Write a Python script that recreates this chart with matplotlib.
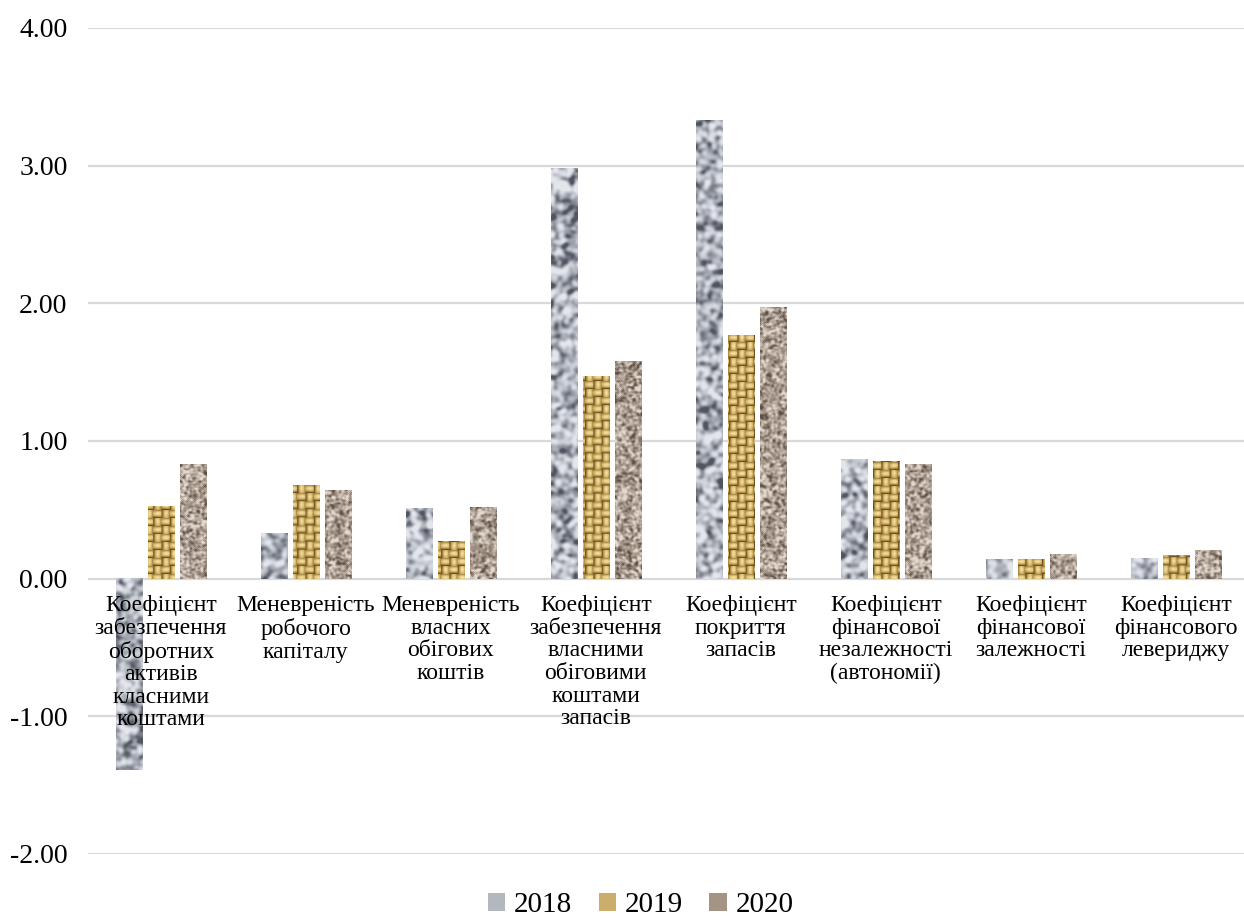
import numpy as np
import matplotlib
matplotlib.use('Agg')
import matplotlib.pyplot as plt
from matplotlib.patches import Patch

plt.rcParams['font.family'] = ['Liberation Serif', 'DejaVu Serif']

# === Data ===
categories = [
    'Коефіцієнт\nзабезпечення\nоборотних\nактивів\nкласними\nкоштами',
    'Меневреність\nробочого\nкапіталу',
    'Меневреність\nвласних\nобігових\nкоштів',
    'Коефіцієнт\nзабезпечення\nвласними\nобіговими\nкоштами\nзапасів',
    'Коефіцієнт\nпокриття\nзапасів',
    'Коефіцієнт\nфінансової\nнезалежності\n(автономії)',
    'Коефіцієнт\nфінансової\nзалежності',
    'Коефіцієнт\nфінансового\nлевериджу',
]
years = ['2018', '2019', '2020']
v2018 = [-1.39, 0.33, 0.515, 2.98, 3.33, 0.865, 0.14, 0.15]
v2019 = [0.53, 0.68, 0.275, 1.47, 1.77, 0.855, 0.145, 0.17]
v2020 = [0.835, 0.64, 0.52, 1.58, 1.97, 0.83, 0.175, 0.21]
yticks = [-2, -1, 0, 1, 2, 3, 4]

# === Texture helpers (style only) ===
H, W = 826, 1160
XMIN, XMAX, YMIN, YMAX = -0.5, 7.5, -2.0, 4.0


def hash_noise(h, w, seed):
    i, j = np.mgrid[0:h, 0:w].astype(float)
    v = np.sin(i * 12.9898 + j * 78.233 + seed * 3.17) * 43758.5453
    return v - np.floor(v)


def blur(a, r):
    out = a.copy()
    for _ in range(r):
        out = (out + np.roll(out, 1, 0) + np.roll(out, -1, 0)
               + np.roll(out, 1, 1) + np.roll(out, -1, 1)) / 5.0
    return out


def norm(a):
    return (a - a.min()) / (a.max() - a.min())


def colorize(t, stops):
    stops = np.array(stops, float) / 255.0
    xs = np.linspace(0, 1, len(stops))
    return np.stack([np.interp(t, xs, stops[:, k]) for k in range(3)], axis=-1)


# granite grey: soft blobs
g = norm(blur(hash_noise(H, W, 1), 10))
g = np.clip((g - 0.5) * 2.4 + 0.55, 0, 1)
tex_gray = colorize(g, [(80, 85, 95), (145, 150, 160), (195, 199, 207), (228, 230, 236)])

# burlap weave
i, j = np.mgrid[0:H, 0:W]
P = 8
cell = ((i // P) + (j // P)) % 2
hprof = np.sin(np.pi * (i % P) / P)
vprof = np.sin(np.pi * (j % P) / P)
weave = np.where(cell == 0, hprof * (0.7 + 0.3 * np.sin(np.pi * (j % P) / P)),
                 vprof * (0.7 + 0.3 * np.sin(np.pi * (i % P) / P)))
weave = 0.8 * weave + 0.2 * blur(hash_noise(H, W, 2), 2)
tex_burlap = colorize(norm(weave), [(90, 70, 30), (165, 130, 65), (212, 182, 108), (250, 232, 165)])

# brown granite: fine grain
b = norm(blur(hash_noise(H, W, 3), 2))
b = np.clip((b - 0.5) * 2.3 + 0.52, 0, 1)
tex_brown = colorize(b, [(95, 80, 70), (148, 133, 120), (185, 172, 160), (228, 218, 208)])

textures = [tex_gray, tex_burlap, tex_brown]
mean_colors = [(0.70, 0.72, 0.75), (0.80, 0.68, 0.42), (0.64, 0.58, 0.52)]

# === Plot ===
fig = plt.figure(figsize=(12.44, 9.23), dpi=100)
ax = fig.add_axes([0.071, 0.0748, 0.9325, 0.8949])

x = np.arange(len(categories))
width = 0.18
step = 0.222
series = [v2018, v2019, v2020]

for k, vals in enumerate(series):
    bars = ax.bar(x + (k - 1) * step, vals, width, color=mean_colors[k],
                  linewidth=0, zorder=1)
    tex = textures[k]
    for rect in bars:
        x0 = rect.get_x()
        x1 = x0 + rect.get_width()
        y0 = min(rect.get_y(), rect.get_y() + rect.get_height())
        y1 = max(rect.get_y(), rect.get_y() + rect.get_height())
        c0 = int((x0 - XMIN) / (XMAX - XMIN) * W)
        c1 = max(c0 + 1, int((x1 - XMIN) / (XMAX - XMIN) * W))
        r0 = int((y0 - YMIN) / (YMAX - YMIN) * H)
        r1 = max(r0 + 1, int((y1 - YMIN) / (YMAX - YMIN) * H))
        ax.imshow(tex[r0:r1, c0:c1], extent=(x0, x1, y0, y1), origin='lower',
                  aspect='auto', interpolation='bilinear', zorder=1.2)

ax.set_xlim(XMIN, XMAX)
ax.set_ylim(YMIN, YMAX)
ax.set_yticks(yticks)
ax.set_yticklabels([f'{t:.2f}' for t in yticks], fontsize=20)
ax.yaxis.grid(True, color='#d9d9d9', linewidth=1.6)
ax.set_axisbelow(True)
ax.tick_params(axis='y', length=0, pad=15)

ax.spines['bottom'].set_position(('data', 0))
for s in ['top', 'right', 'left', 'bottom']:
    ax.spines[s].set_visible(False)
ax.set_xticks(x)
ax.set_xticklabels(categories, fontsize=17, linespacing=1.1)
ax.tick_params(axis='x', length=0, pad=12)
ax.xaxis.set_zorder(5)

handles = [Patch(facecolor=mean_colors[k], edgecolor='none', label=years[k]) for k in range(3)]
fig.legend(handles=handles, loc='center', bbox_to_anchor=(0.515, 0.019), ncol=3,
           frameon=False, fontsize=21, handlelength=0.6, handleheight=0.6,
           handletextpad=0.3, columnspacing=0.9, borderpad=0.2)

plt.savefig('out.png', dpi=100)
